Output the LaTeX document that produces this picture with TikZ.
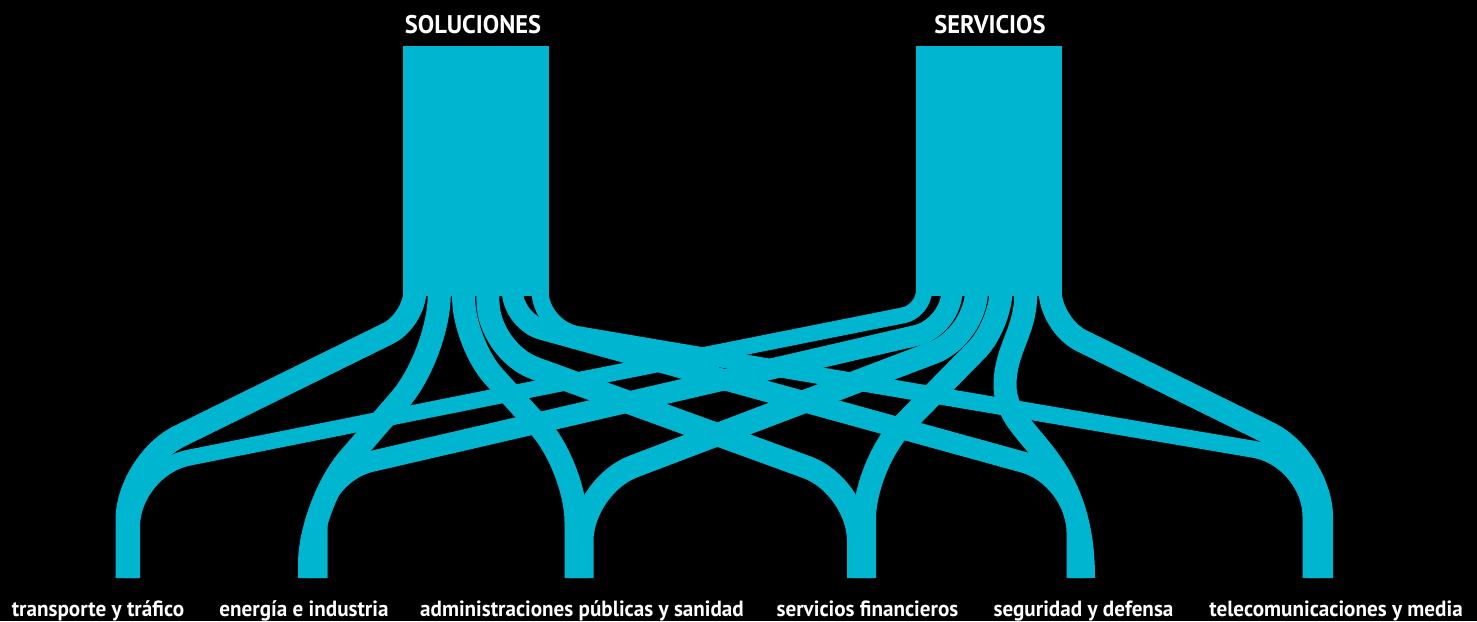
\documentclass[tikz,border=0pt]{standalone}
\usepackage{fontspec}
\newfontfamily\labelfont{PT Sans}[FakeStretch=0.96]
\usetikzlibrary{calc}
\definecolor{flowcyan}{RGB}{0,181,207}
\tikzset{
  flow/.style={draw=flowcyan, line width=#1},
  flow/.default=23pt,
  srcbar/.style={fill=flowcyan, minimum width=146pt, minimum height=250pt, inner sep=0pt},
  head/.style={text=white, font=\labelfont\bfseries\fontsize{25.5}{26}\selectfont, anchor=base},
  lbl/.style={text=white, font=\labelfont\bfseries\fontsize{22}{22}\selectfont, anchor=base}
}
\begin{document}
\begin{tikzpicture}[x=1pt,y=-1pt]
\fill[black] (0,0) rectangle (1477,621);
\useasboundingbox (0,0) rectangle (1477,621);
% sources
\node [srcbar] (sol) at (476,171) {};
\node [srcbar] (ser) at (988.5,171) {};
\node [head] (solt) at (473,33) {SOLUCIONES};
\node [head] (sert) at (990,33) {SERVICIOS};
\foreach \k in {1,...,6} {
  \coordinate (sol\k) at ($(sol.south west)+(24.33*\k-12.17,0)$);
  \coordinate (ser\k) at ($(ser.south west)+(24.5*\k-12.25,0)$);
}
% targets
\coordinate (t1) at (128,578);
\coordinate (t2) at (313,578);
\coordinate (t3) at (579,578);
\coordinate (t4) at (861.5,578);
\coordinate (t5) at (1081,578);
\coordinate (t6) at (1318,578);
\node [lbl] (l1) at (98,616) {transporte y tráfico};
\node [lbl] (l2) at (304,616) {energía e industria};
\node [lbl] (l3) at (582,616) {administraciones públicas y sanidad};
\node [lbl] (l4) at (867.5,616) {servicios financieros};
\node [lbl] (l5) at (1083.5,616) {seguridad y defensa};
\node [lbl] (l6) at (1336,616) {telecomunicaciones y media};
% flows: source/offset/knee/radius, target/offset/knee/radius, width
\foreach \s/\ox/\ya/\rt/\t/\dx/\yb/\rb/\w in {
  sol1/0/24/30pt/t1/-1/116/58pt/23pt, sol2/0/58/60pt/t2/-3.5/74/60pt/23pt,
  sol3/0/47/45pt/t3/-3/111/55pt/23pt, sol4/0/55/50pt/t4/-3/92/55pt/23pt,
  sol5/0/25/31pt/t5/-4/101/55pt/21pt, sol6/3.3/32/38pt/t6/-7/119/58pt/17pt,
  ser1/-3.5/15/21pt/t1/4/109/58pt/16pt, ser2/0/31/37pt/t2/4/104/55pt/21pt,
  ser3/0/40/46pt/t3/3/92/55pt/23pt, ser4/0/29/35pt/t4/3/114/55pt/23pt,
  ser6/0/29/35pt/t6/3.5/119/58pt/23pt}
  \draw [flow=\w] ($(\s)+(\ox,-60)$) [rounded corners=\rt] -- ($(\s)+(\ox,\ya)$)
    [rounded corners=\rb] -- ($(\t)+(\dx,-\yb)$) -- ($(\t)+(\dx,0)$);
\draw [flow] ($(ser5)+(0,-60)$) -- (ser5) .. controls ($(ser5)+(0,35)$) and (1005,350) .. (1005,385)
  .. controls (1005,440) and ($(t5)+(2.5,-128)$) .. ($(t5)+(2.5,0)$);
\end{tikzpicture}
\end{document}
